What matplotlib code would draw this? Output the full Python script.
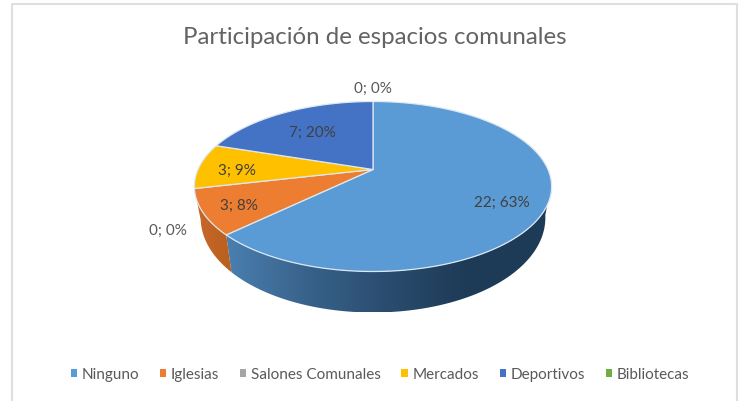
import numpy as np
import matplotlib
matplotlib.use('Agg')
import matplotlib.pyplot as plt
from matplotlib.colors import LinearSegmentedColormap
from matplotlib.patches import Patch, Polygon

plt.rcParams['font.family'] = ['Lato', 'DejaVu Sans']

title = 'Participación de espacios comunales'
categories = ['Ninguno', 'Iglesias', 'Salones Comunales', 'Mercados', 'Deportivos', 'Bibliotecas']
values = [22, 3, 0, 3, 7, 0]
percents = [63, 8, 0, 9, 20, 0]
colors = ['#5B9BD5', '#ED7D31', '#A5A5A5', '#FFC000', '#4472C4', '#70AD47']
text_color = '#636363'

# label centres in pixels, same order as categories
label_xy = [(502, 203), (239, 206), (168, 231), (237, 171), (312, 133), (373, 89)]
label_color = ['#404040', '#404040', '#595959', '#404040', '#404040', '#595959']

# pie geometry in pixels (apex, radius, perspective)
cx, cy = 373, 170.5
radius = 175
depth_y = 81.6
persp = 0.2
thick = 41
shrink = 0.965


def project(theta):
    """Clockwise angle from 12 o'clock to a point on the tilted rim."""
    u, d = np.sin(theta), np.cos(theta)
    w = 1 / (1 + persp * d)
    return cx + radius * u * w, cy - depth_y * d * w


def wall_polygon(a, b):
    """Outline of the visible side wall between two angles, None if hidden."""
    lo, hi = max(a, np.radians(100)), min(b, np.radians(260))
    if hi <= lo:
        return None
    t = np.linspace(lo, hi, 150)
    x, y = project(t)
    xb = cx + (x - cx) * shrink
    yb = y + thick * (0.7 - 0.3 * np.cos(t))
    return np.c_[np.r_[x, xb[::-1]], np.r_[y, yb[::-1]]]


fig = plt.figure(figsize=(7.42, 4.02), dpi=100)
ax = fig.add_axes([0, 0, 1, 1])

# chart frame
ax.plot([11.5, 11.5, 737, 737], [402, 5, 5, 402], color='#DFDFDF', lw=1.5)

ends = np.cumsum(values) / np.sum(values) * 2 * np.pi
starts = np.r_[0, ends[:-1]]

# blue side wall runs dark to the right, orange one is flat
blue_wall = LinearSegmentedColormap.from_list('wall', ['#4A7FB0', '#38628A', '#2A4C6E', '#1D3A56', '#1E3B58'])
orange_wall = LinearSegmentedColormap.from_list('wall2', ['#C8682A', '#B9601F'])
wall_maps = {0: blue_wall, 1: orange_wall}

for i, (a, b) in enumerate(zip(starts, ends)):
    poly = wall_polygon(a, b)
    if poly is None or i not in wall_maps:
        continue
    xs = poly[:, 0].min(), poly[:, 0].max()
    ys = poly[:, 1].min(), poly[:, 1].max()
    im = ax.imshow(np.linspace(0, 1, 256).reshape(1, -1), cmap=wall_maps[i], aspect='auto',
                   extent=(xs[0], xs[1], ys[1], ys[0]), zorder=1)
    im.set_clip_path(Polygon(poly, transform=ax.transData))

for i, (a, b) in enumerate(zip(starts, ends)):
    if b <= a:
        continue
    t = np.linspace(a, b, 200)
    x, y = project(t)
    ax.fill(np.r_[cx, x], np.r_[cy, y], facecolor=colors[i], edgecolor='#DCE8F2', lw=0.9, zorder=2)

for i in range(len(values)):
    ax.text(label_xy[i][0], label_xy[i][1], f'{values[i]}; {percents[i]}%', ha='center', va='center',
            fontsize=11, color=label_color[i], zorder=3)

ax.text(375, 38, title, ha='center', va='center', fontsize=17.3, color=text_color)

handles = [Patch(facecolor=c, edgecolor='none') for c in colors]
ax.legend(handles, categories, loc='center', bbox_to_anchor=(380, 375), bbox_transform=ax.transData,
          ncol=6, frameon=False, fontsize=11, labelcolor='#595959', handlelength=0.42, handleheight=0.42,
          handletextpad=0.3, columnspacing=1.35, borderpad=0)

ax.set_xlim(0, 742)
ax.set_ylim(402, 0)
ax.axis('off')

fig.savefig('out.png', dpi=100)
